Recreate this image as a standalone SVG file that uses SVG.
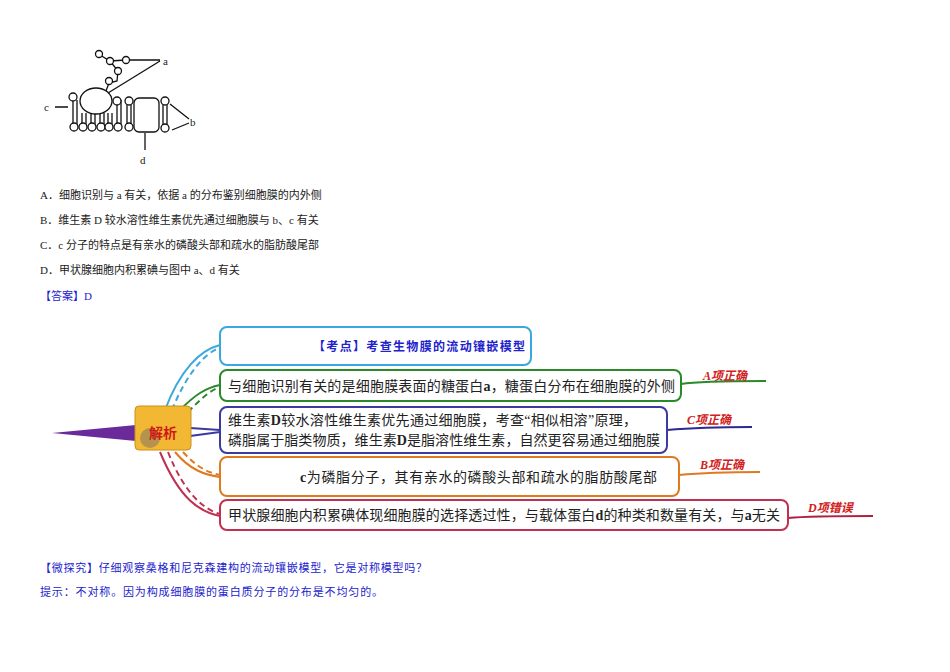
<svg xmlns="http://www.w3.org/2000/svg" width="950" height="672" viewBox="0 0 950 672">
<style>
.t{font-family:"Liberation Serif","Noto Sans CJK SC",serif;font-size:11px;fill:#222}
.b{font-family:"Liberation Serif","Noto Sans CJK SC",serif;font-size:14px;fill:#222}
.bl{fill:#2222cc}
.m{fill:none;stroke:#111;stroke-width:1.3}
.h{fill:#fff;stroke:#111;stroke-width:1.3}
.box{fill:#fff;stroke-width:2}
.lab{font-family:"Liberation Serif","Noto Sans CJK SC",serif;font-size:12px;font-weight:bold;fill:#d02020;font-style:italic}
</style>
<rect width="950" height="672" fill="#fff"/>
<g id="membrane">
<path class="m" d="M73,100 V127 M77,100 V127 M82,113 V127 M86,113 V127 M91,113 V127 M95,113 V127 M100,113 V127 M104,113 V127 M108,113 V127 M112,113 V127 M117,100 V127 M121,100 V127 M127,100 V127 M131,100 V127 M163,102 V128 M167,102 V128"/>
<g class="h">
<circle cx="73" cy="97" r="4"/><circle cx="117" cy="101" r="4"/><circle cx="129" cy="101" r="4"/><circle cx="165" cy="101" r="4"/>
<circle cx="74" cy="127" r="4"/><circle cx="83" cy="127" r="4"/><circle cx="92" cy="127" r="4"/><circle cx="101" cy="127" r="4"/><circle cx="109" cy="127" r="4"/><circle cx="118" cy="127" r="4"/><circle cx="129" cy="127" r="4"/><circle cx="165" cy="128" r="4"/>
<ellipse cx="96" cy="101" rx="16" ry="13"/>
<rect x="134" y="98" width="25" height="34" rx="5"/>
<path class="m" d="M100,55 L110,61 L126,60 M110,61 L118,71 L117,81 L109,83 L106,91"/>
<circle cx="99" cy="54" r="3.5"/><circle cx="110" cy="61" r="3.5"/><circle cx="126" cy="60" r="3.5"/><circle cx="118" cy="71" r="3.5"/><circle cx="109" cy="81" r="3.5"/>
</g>
<path class="m" d="M130,60 H160 M108,93 L160,61 M55,107 H68 M170,104 L189,119 M172,130 L189,123 M145,133 V150"/>
<text class="t" x="163" y="65" font-size="13">a</text>
<text class="t" x="44" y="111" font-size="13">c</text>
<text class="t" x="190" y="126" font-size="13">b</text>
<text class="t" x="140" y="164" font-size="13">d</text>
</g>
<g id="question">
<text class="t" x="40" y="199">A．细胞识别与 a 有关，依据 a 的分布鉴别细胞膜的内外侧</text>
<text class="t" x="40" y="224">B．维生素 D 较水溶性维生素优先通过细胞膜与 b、c 有关</text>
<text class="t" x="40" y="249">C．c 分子的特点是有亲水的磷酸头部和疏水的脂肪酸尾部</text>
<text class="t" x="40" y="274">D．甲状腺细胞内积累碘与图中 a、d 有关</text>
<text class="t bl" x="40" y="300">【答案】D</text>
</g>
<g id="connectors" fill="none" stroke-width="2">
<path d="M52,433 L136,425 L136,441 Z" fill="#6a2a9a" stroke="none"/>
<path d="M165,410 C180,370 200,350 220,345" stroke="#3aa8dd"/>
<path d="M172,410 C186,375 205,352 220,348" stroke="#3aa8dd" stroke-dasharray="6 4"/>
<path d="M180,410 C195,395 205,388 220,385" stroke="#2a8a2a"/>
<path d="M188,412 C200,400 210,390 220,387" stroke="#2a8a2a" stroke-dasharray="6 4"/>
<path d="M190,428 L220,430 M190,436 L220,432" stroke="#3a3aa0"/>
<path d="M175,452 C190,470 205,475 220,477" stroke="#e07a20"/>
<path d="M183,452 C195,465 205,472 220,475" stroke="#e07a20" stroke-dasharray="6 4"/>
<path d="M160,452 C180,500 200,512 220,516" stroke="#c03050"/>
<path d="M168,452 C185,495 205,510 220,514" stroke="#c03050" stroke-dasharray="6 4"/>
<path d="M681,384 C700,381 740,381 766,381" stroke="#2a8a2a"/>
<path d="M667,430 C690,428 720,427 752,427" stroke="#2a2a90"/>
<path d="M679,475 C700,473 730,472 760,472" stroke="#e07a20"/>
<path d="M788,518 C810,516 840,516 873,516" stroke="#b02040"/>
</g>
<g id="center">
<rect x="135" y="406" width="56" height="44" rx="4" fill="#f2b833" stroke="#c8901a"/>
<circle cx="150" cy="438" r="10" fill="#8a7a60" opacity="0.6"/>
<text x="163" y="438" text-anchor="middle" font-family="Noto Sans CJK SC,sans-serif" font-size="14" font-weight="bold" fill="#d01818">解析</text>
</g>
<g id="n1"><rect class="box" x="220" y="327" width="311" height="38" rx="7" stroke="#3aa8dd"/>
<text class="bl" x="313" y="351" textLength="212" font-weight="bold" font-family="Noto Sans CJK SC,sans-serif" font-size="12">【考点】考查生物膜的流动镶嵌模型</text></g>
<g id="n2"><rect class="box" x="220" y="370" width="461" height="31" rx="7" stroke="#2a8a2a"/>
<text class="b" x="228" y="391" textLength="447">与细胞识别有关的是细胞膜表面的糖蛋白<tspan font-weight="bold">a</tspan>，糖蛋白分布在细胞膜的外侧</text></g>
<g id="n3"><rect class="box" x="220" y="407" width="447" height="46" rx="7" stroke="#3a3aa0"/>
<text class="b" x="228" y="425" textLength="409">维生素<tspan font-weight="bold">D</tspan>较水溶性维生素优先通过细胞膜，考查“相似相溶”原理，</text>
<text class="b" x="228" y="445" textLength="432">磷脂属于脂类物质，维生素<tspan font-weight="bold">D</tspan>是脂溶性维生素，自然更容易通过细胞膜</text></g>
<g id="n4"><rect class="box" x="220" y="457" width="459" height="39" rx="7" stroke="#e07a20"/>
<text class="b" x="300" y="482" textLength="357"><tspan font-weight="bold">c</tspan>为磷脂分子，其有亲水的磷酸头部和疏水的脂肪酸尾部</text></g>
<g id="n5"><rect class="box" x="220" y="500" width="568" height="30" rx="7" stroke="#c03050"/>
<text class="b" x="228" y="520" textLength="552">甲状腺细胞内积累碘体现细胞膜的选择透过性，与载体蛋白<tspan font-weight="bold">d</tspan>的种类和数量有关，与<tspan font-weight="bold">a</tspan>无关</text></g>
<g id="labels">
<text class="lab" x="703" y="380">A项正确</text>
<text class="lab" x="687" y="424">C项正确</text>
<text class="lab" x="700" y="469">B项正确</text>
<text class="lab" x="808" y="512">D项错误</text>
</g>
<g id="footer">
<text class="t bl" x="40" y="572" textLength="387">【微探究】仔细观察桑格和尼克森建构的流动镶嵌模型，它是对称模型吗？</text>
<text class="t bl" x="40" y="596" textLength="343">提示：不对称。因为构成细胞膜的蛋白质分子的分布是不均匀的。</text>
</g>
</svg>
